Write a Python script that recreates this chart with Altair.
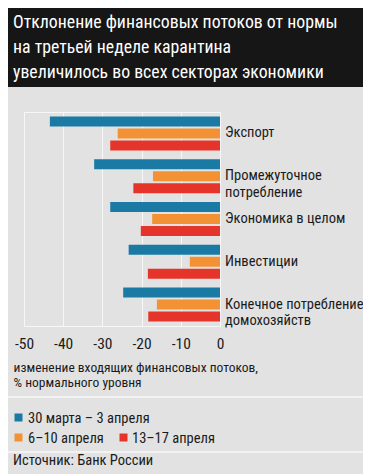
import altair as alt
import pandas as pd

# ---- data ----
categories = ["Экспорт", "Промежуточное потребление", "Экономика в целом",
              "Инвестиции", "Конечное потребление домохозяйств"]
cat_labels = ["Экспорт", "Промежуточное\nпотребление", "Экономика в целом",
              "Инвестиции", "Конечное потребление\nдомохозяйств"]
series = ["30 марта – 3 апреля", "6–10 апреля", "13–17 апреля"]
values_w1 = [-43.4, -32.1, -28.0, -23.3, -24.7]
values_w2 = [-26.1, -17.1, -17.3, -7.7, -16.1]
values_w3 = [-28.0, -22.1, -20.2, -18.4, -18.3]
ticks = [-50, -40, -30, -20, -10, 0]
title_lines = ["Отклонение финансовых потоков от нормы",
               "на третьей неделе карантина",
               "увеличилось во всех секторах экономики"]
axis_title = ["изменение входящих финансовых потоков,", "% нормального уровня"]
source = "Источник: Банк России"

# ---- styles ----
colors = ["#1b7aa3", "#f29234", "#e5352a"]
FONT = "Liberation Sans Narrow, Roboto Condensed, DejaVu Sans Condensed, sans-serif"
BG = "#e2e2e2"
GRID = "#f7f7f7"
TXT = "#1a1a1a"

rows = []
for vals, s in zip([values_w1, values_w2, values_w3], series):
    for c, v in zip(categories, vals):
        rows.append({"cat": c, "series": s, "value": v})
df = pd.DataFrame(rows)
lab_df = pd.DataFrame({"cat": categories, "label": cat_labels})

yscale = alt.Scale(domain=categories, paddingInner=0.205, paddingOuter=0.105)

bars = alt.Chart(df).mark_bar().encode(
    x=alt.X("value:Q", scale=alt.Scale(domain=[-50, 0], nice=False),
            axis=alt.Axis(values=ticks, grid=True, gridColor=GRID, gridWidth=1,
                          domain=False, ticks=False, tickSize=0,
                          labelFlush=False, labelExpr="datum.value + ''",
                          labelFont=FONT, labelFontSize=15.5, labelColor=TXT,
                          labelBaseline="alphabetic", labelPadding=22,
                          title=axis_title, titleX=-11, titleY=45,
                          titleAlign="left", titleAnchor="start",
                          titleBaseline="alphabetic", titleFont=FONT,
                          titleFontSize=13.5, titleFontWeight="normal",
                          titleLineHeight=15, titleColor=TXT)),
    y=alt.Y("cat:N", scale=yscale, axis=None),
    yOffset=alt.YOffset("series:N", sort=series,
                        scale=alt.Scale(paddingInner=0.17, paddingOuter=0)),
    color=alt.Color("series:N", sort=series,
                    scale=alt.Scale(domain=series, range=colors), legend=None),
)

cat_text = alt.Chart(lab_df).mark_text(
    align="left", baseline="middle", font=FONT, fontSize=14.5, color=TXT,
    lineBreak="\n", lineHeight=16.5
).encode(
    y=alt.Y("cat:N", scale=yscale, axis=None),
    x=alt.value(201),
    text="label:N",
)

one = alt.Data(values=[{"k": 1}])

header = alt.Chart(one).mark_rect(color="#161616").encode(
    x=alt.value(-16), x2=alt.value(339), y=alt.value(-104), y2=alt.value(-25))

title = alt.Chart(one).mark_text(
    align="left", baseline="alphabetic", font=FONT, fontSize=17.8,
    color="white", lineHeight=25
).encode(x=alt.value(-11), y=alt.value(-84), text=alt.value(title_lines))

sep1 = alt.Chart(one).mark_rule(color="#f7f7f7", strokeWidth=1.5).encode(
    x=alt.value(-16), x2=alt.value(339), y=alt.value(285))
sep2 = alt.Chart(one).mark_rule(color="#f7f7f7", strokeWidth=1.5).encode(
    x=alt.value(-16), x2=alt.value(339), y=alt.value(340))

legend_pos = [(-5.5, 305.5, 4, 311), (-5.5, 325.5, 4, 331), (99.5, 325.5, 108, 331)]
legend_layers = []
for s, col, (sx, sy, tx, ty) in zip(series, colors, legend_pos):
    legend_layers.append(
        alt.Chart(one).mark_square(size=64, color=col, opacity=1).encode(
            x=alt.value(sx), y=alt.value(sy)))
    legend_layers.append(
        alt.Chart(one).mark_text(align="left", baseline="alphabetic", font=FONT,
                                 fontSize=14.5, color=TXT).encode(
            x=alt.value(tx), y=alt.value(ty), text=alt.value(s)))

src = alt.Chart(one).mark_text(align="left", baseline="alphabetic", font=FONT,
                               fontSize=14.5, color=TXT).encode(
    x=alt.value(-11), y=alt.value(353), text=alt.value(source))

chart = alt.layer(header, title, bars, cat_text, sep1, sep2, *legend_layers, src).properties(
    width=196, height=214,
    padding={"left": 16, "top": 104, "right": 143, "bottom": 148},
    autosize=alt.AutoSizeParams(type="none"),
    background=BG,
).configure_view(stroke=GRID, strokeWidth=1)

chart.save("out.html", embed_options={"renderer": "svg", "actions": False})
